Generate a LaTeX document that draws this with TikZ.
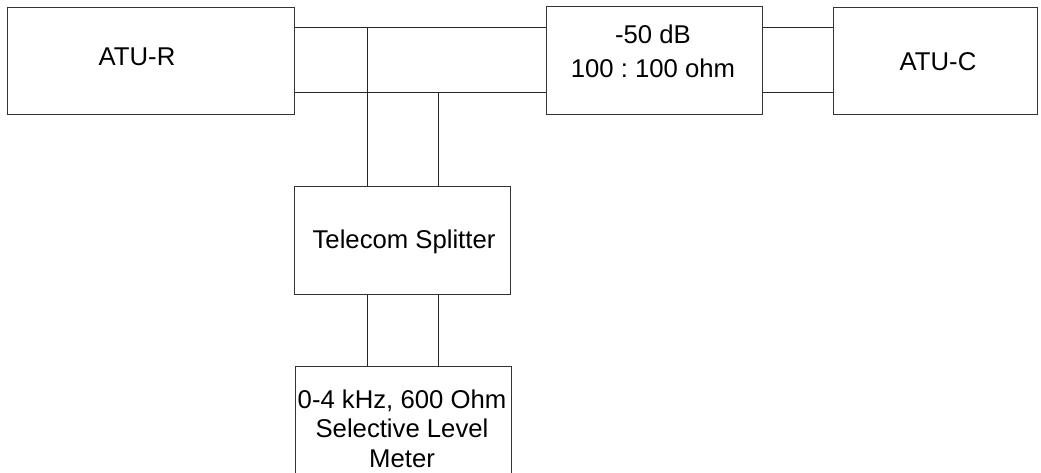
\documentclass[tikz,border=0pt]{standalone}
\usepackage{fontspec}
\setmainfont{Liberation Sans}
\frenchspacing
\begin{document}
\begin{tikzpicture}[x=1pt,y=-1pt,
  box/.style={draw=black!80, line width=1pt, fill=white, inner sep=0pt, anchor=north west},
  wire/.style={draw=black!85, line width=1pt},
  lbl/.style={font=\fontsize{25.7}{30}\selectfont, inner sep=0pt, anchor=base, text=black}]
\fill[white] (0,0) rectangle (1041,472);
\useasboundingbox (0,0) rectangle (1041,472);
% boxes
\node[box, minimum width=287pt, minimum height=107pt] (atur) at (7,7) {};
\node[box, minimum width=216pt, minimum height=108pt] (att) at (546,6) {};
\node[box, minimum width=204pt, minimum height=107pt] (atuc) at (833,7) {};
\node[box, minimum width=216pt, minimum height=108pt] (split) at (294,186) {};
\node[box, minimum width=216pt, minimum height=108pt] (meter) at (295,366) {};
% junction coordinates
\coordinate (ta) at (367,27.5);
\coordinate (tb) at (438,92.5);
% wires
\draw[wire] (atur.east |- ta) -- (att.west |- ta);
\draw[wire] (atur.east |- tb) -- (att.west |- tb);
\draw[wire] (att.east |- ta) -- (atuc.west |- ta);
\draw[wire] (att.east |- tb) -- (atuc.west |- tb);
\draw[wire] (ta) -- (split.north -| ta);
\draw[wire] (tb) -- (split.north -| tb);
\draw[wire] (split.south -| ta) -- (meter.north -| ta);
\draw[wire] (split.south -| tb) -- (meter.north -| tb);
% labels
\node[lbl] (latur) at (137,65) {ATU-R};
\node[lbl] (latt1) at (653,43) {-50 dB};
\node[lbl] (latt2) at (653,77) {100 : 100 ohm};
\node[lbl] (latuc) at (938,70) {ATU-C};
\node[lbl] (lsplit) at (404,248) {Telecom Splitter};
\node[lbl] (lm1) at (402,408) {0-4 kHz, 600 Ohm};
\node[lbl] (lm2) at (402,437.5) {Selective Level};
\node[lbl] (lm3) at (402,467) {Meter};
\end{tikzpicture}
\end{document}
